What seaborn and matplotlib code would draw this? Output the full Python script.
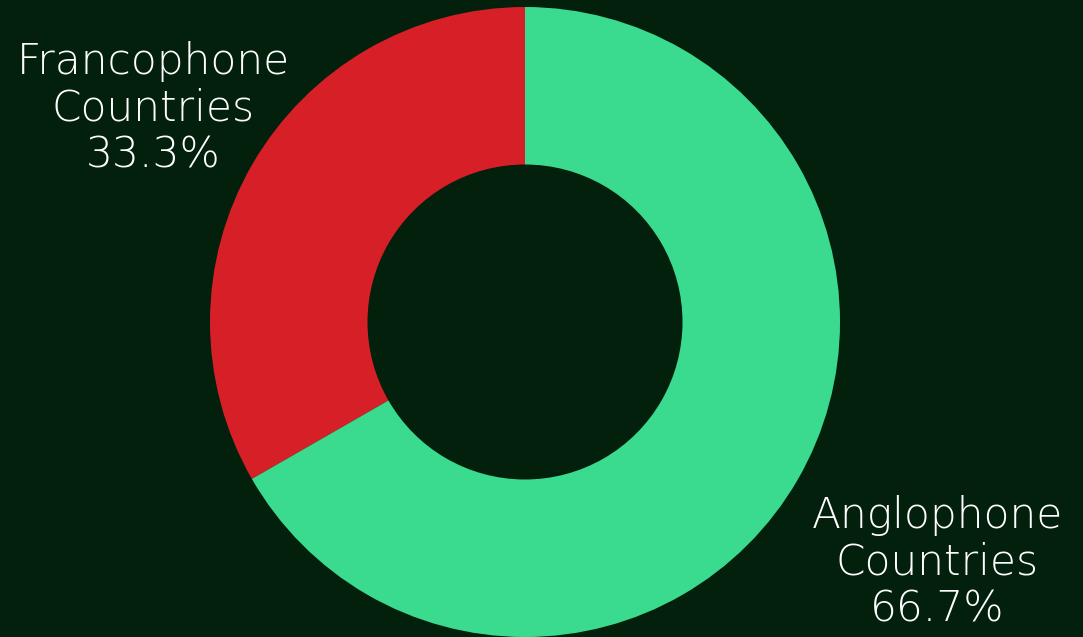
import matplotlib
matplotlib.use("Agg")
import matplotlib.pyplot as plt
import seaborn as sns

categories = ["Francophone Countries", "Anglophone Countries"]
labels = ["Francophone\nCountries", "Anglophone\nCountries"]
values = [33.3, 66.7]
colors = ["#d71f27", "#3adb8f"]

sns.set_theme(style="white")
plt.rcParams["font.family"] = ["DejaVu Sans"]

bg = "#03200d"
fig = plt.figure(figsize=(10.83, 6.37), dpi=100, facecolor=bg)
ax = fig.add_axes([0, 0, 1, 1])
ax.set_facecolor(bg)

R = 315.0
ax.pie(values, colors=colors, startangle=90, counterclock=True,
       radius=1.0, wedgeprops=dict(width=0.5, linewidth=0))

ax.set_xlim(-525 / R, (1083 - 525) / R)
ax.set_ylim(-(637 - 322) / R, 322 / R)
ax.set_aspect("equal")
ax.axis("off")

label_pos = [((153 - 525) / R, (322 - 108) / R), ((937 - 525) / R, (322 - 562) / R)]
for lab, v, (x, y) in zip(labels, values, label_pos):
    ax.text(x, y, f"{lab}\n{v:.1f}%", ha="center", va="center", color="white",
            fontsize=30.5, fontweight="light", linespacing=1.17)

fig.savefig("out.png", dpi=100, facecolor=bg)
